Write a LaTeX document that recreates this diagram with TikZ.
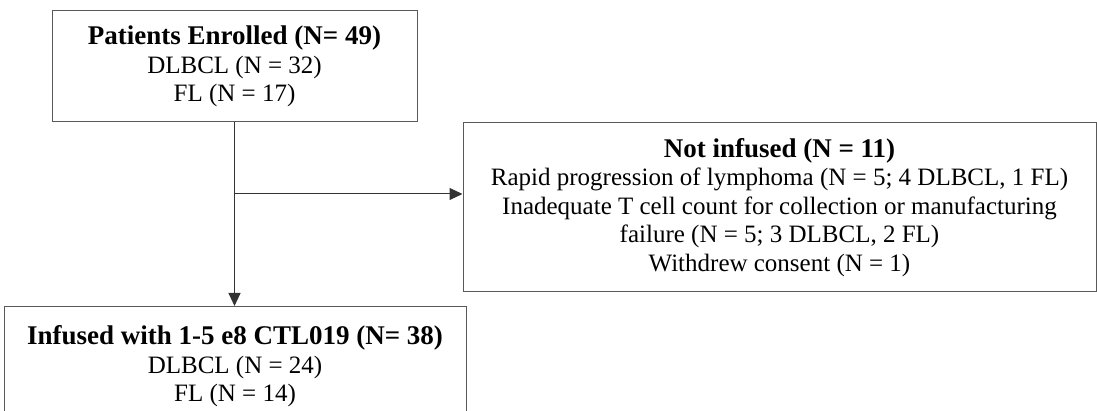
\documentclass[tikz,border=0pt]{standalone}
\usepackage{fontspec}
\setmainfont{Liberation Serif}
\usetikzlibrary{arrows.meta}

\tikzset{
  flowbox/.style={draw=black!65, line width=1pt, inner sep=0pt, align=center,
    font=\fontsize{25}{28.5}\selectfont},
  flowarrow/.style={draw=black!80, line width=1pt, -{Triangle[length=13pt,width=12pt]}},
}
\newcommand{\boxtitle}[1]{{\fontsize{27}{28.5}\selectfont\bfseries #1}}

\begin{document}
\begin{tikzpicture}[x=1pt,y=1pt]
		\useasboundingbox (0,0) rectangle (1097,411);
		\clip (0,0) rectangle (1097,411);
		
		\node (enrolled) [flowbox, minimum width=365pt, minimum height=111pt] at (234.5,344.5)
			{\boxtitle{Patients Enrolled (N= 49)}\\ DLBCL (N = 32)\\ FL (N = 17)};
		\node (notinf) [flowbox, minimum width=633pt, minimum height=169pt] at (779.5,203.5)
			{\boxtitle{Not infused (N = 11)}\\ Rapid progression of lymphoma (N = 5; 4 DLBCL, 1 FL)\\
			 Inadequate T cell count for collection or manufacturing\\ failure (N = 5; 3 DLBCL, 2 FL)\\
			 Withdrew consent (N = 1)};
		\node (infused) [flowbox, minimum width=462pt, minimum height=120pt, anchor=north] at (235,105)
			{\boxtitle{Infused with 1-5 e8 CTL019 (N= 38)}\\ DLBCL (N = 24)\\ FL (N = 14)};
		
		\coordinate (split) at (234.5,217);
		\draw[flowarrow] (enrolled.south) -- (enrolled.south |- infused.north);
		\draw[flowarrow] (split) -- (split -| notinf.west);
	\end{tikzpicture}
\end{document}
